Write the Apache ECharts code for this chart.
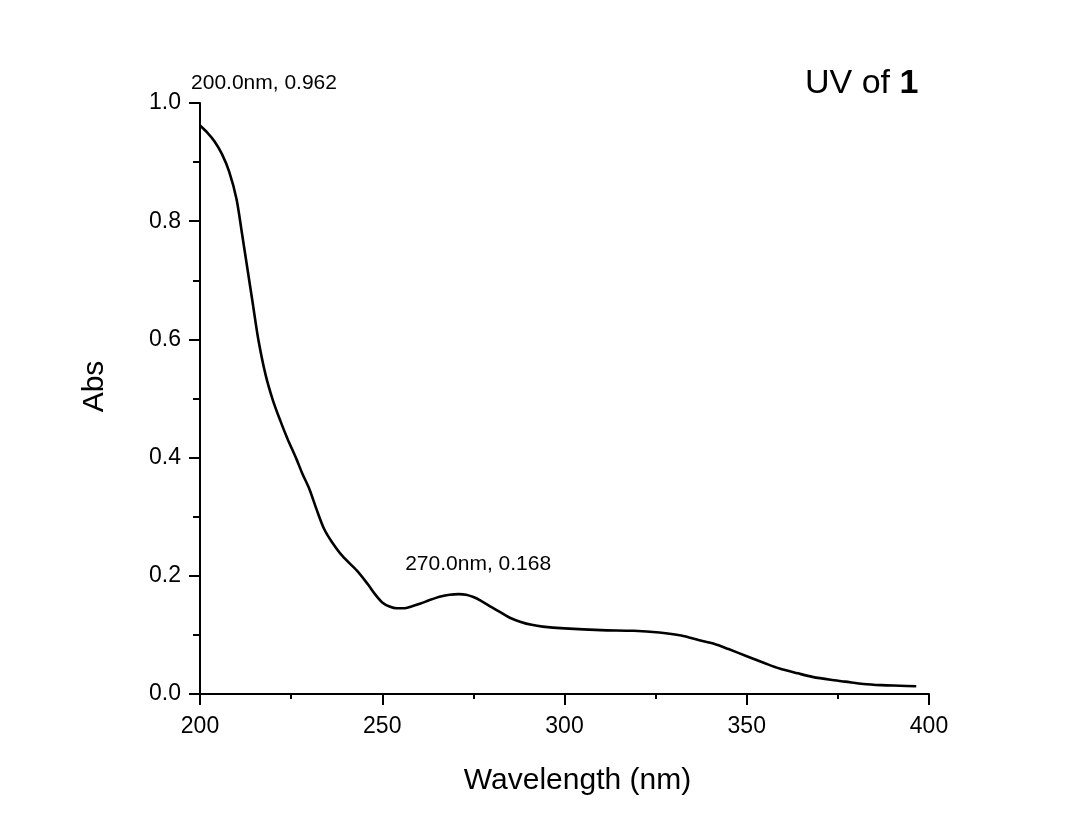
<!DOCTYPE html>
<html>
<head>
<meta charset="utf-8">
<script src="https://cdn.jsdelivr.net/npm/echarts@6/dist/echarts.min.js"></script>
<style>
html,body{margin:0;padding:0;background:#fff;}
#chart{width:1067px;height:824px;}
</style>
</head>
<body>
<div id="chart"></div>
<script>
const wavelengths = [200,202,204,206,208,210,211.5,213,214.5,216,218,220,222,224,226.5,228,230,232,234,236,239,243,246,248,250,252,254,256,258,260.5,263,266,268.5,271,273,275,277,280,282.5,285,288,291,294,300,310,319,326,332,337,341,345,350,355,359,364,368,373,377,382,387,392,396.5];
const absorbance = [0.962,0.950,0.935,0.914,0.884,0.838,0.780,0.720,0.660,0.600,0.540,0.497,0.463,0.432,0.397,0.374,0.347,0.312,0.280,0.259,0.234,0.209,0.186,0.169,0.155,0.148,0.145,0.145,0.148,0.153,0.159,0.165,0.168,0.169,0.168,0.164,0.158,0.147,0.138,0.129,0.122,0.117,0.114,0.111,0.108,0.107,0.104,0.099,0.091,0.085,0.076,0.064,0.052,0.043,0.035,0.029,0.024,0.021,0.017,0.015,0.014,0.013];
const peakWavelengths = [200, 270];
const peakValues = [0.962, 0.168];
const xTitle = 'Wavelength (nm)';
const yTitle = 'Abs';
const chartTitleMain = 'UV of ';
const chartTitleBold = '1';

const FONT = 'Arial, "Liberation Sans", sans-serif';
const chart = echarts.init(document.getElementById('chart'), null, {renderer:'canvas'});
const seriesData = wavelengths.map((w,i)=>[w, absorbance[i]]);
const labelOffsets = [[64,-42],[23,-31]];
const markData = peakWavelengths.map((w,i)=>({
  coord:[w, peakValues[i]],
  value: peakValues[i],
  label:{offset: labelOffsets[i]}
}));

chart.setOption({
  backgroundColor:'#ffffff',
  animation:false,
  grid:{left:200, right:138, top:103, bottom:130, containLabel:false},
  graphic:[{
    type:'text',
    left:805, top:67,
    style:{
      text:'{n|'+chartTitleMain+'}{b|'+chartTitleBold+'}',
      rich:{
        n:{fontSize:34, fontFamily:FONT, fill:'#000'},
        b:{fontSize:34, fontFamily:FONT, fontWeight:'bold', fill:'#000'}
      }
    }
  }],
  xAxis:{
    type:'value', min:200, max:400, interval:50,
    name:xTitle, nameLocation:'middle', nameGap:72,
    nameTextStyle:{fontSize:30, fontFamily:FONT, color:'#000', padding:[0,0,0,26]},
    axisLine:{show:true, onZero:false, lineStyle:{color:'#000', width:2}},
    axisTick:{show:true, inside:false, length:11, lineStyle:{color:'#000', width:2}},
    minorTick:{show:true, splitNumber:2, length:5, lineStyle:{color:'#000', width:2}},
    axisLabel:{fontSize:23, fontFamily:FONT, color:'#000', margin:21},
    splitLine:{show:false}
  },
  yAxis:{
    type:'value', min:0, max:1, interval:0.2,
    name:yTitle, nameLocation:'middle', nameGap:90, nameRotate:90,
    nameTextStyle:{fontSize:30, fontFamily:FONT, color:'#000', padding:[0,0,0,24]},
    axisLine:{show:true, onZero:false, lineStyle:{color:'#000', width:2}},
    axisTick:{show:true, inside:false, length:11, lineStyle:{color:'#000', width:2}},
    minorTick:{show:true, splitNumber:2, length:7, lineStyle:{color:'#000', width:2}},
    axisLabel:{fontSize:23, fontFamily:FONT, color:'#000', margin:19,
      formatter:v=>v.toFixed(1)},
    splitLine:{show:false}
  },
  series:[{
    type:'line',
    data:seriesData,
    smooth:0.3,
    showSymbol:false,
    lineStyle:{color:'#000', width:2.6},
    markPoint:{
      symbol:'circle', symbolSize:0,
      label:{show:true, position:'inside', fontSize:21, fontFamily:FONT, color:'#000',
        formatter:p=>p.data.coord[0].toFixed(1)+'nm, '+p.data.coord[1].toFixed(3)},
      data:markData
    }
  }]
});
</script>
</body>
</html>
